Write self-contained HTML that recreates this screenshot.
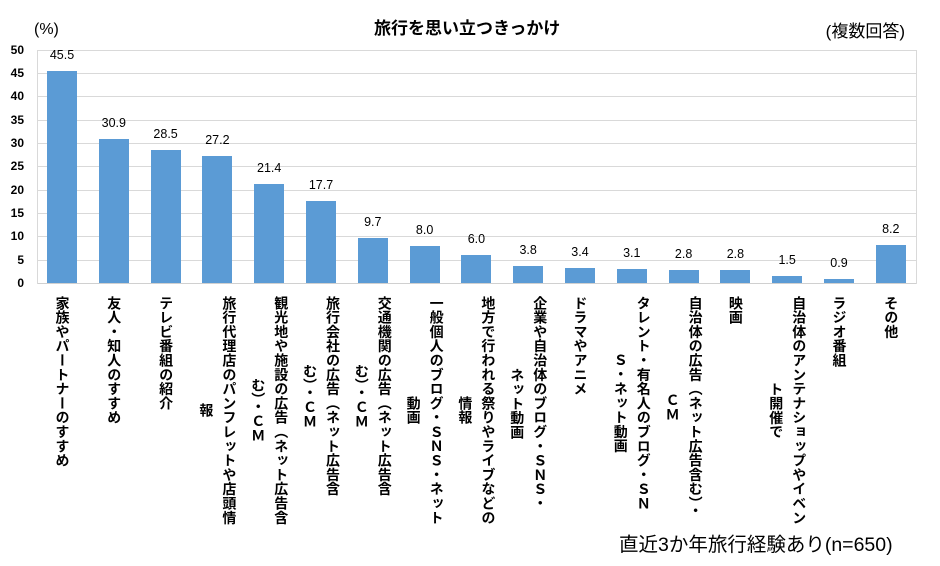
<!DOCTYPE html>
<html><head><meta charset="utf-8"><style>
body{margin:0;width:940px;height:566px;background:#fff;position:relative;overflow:hidden;font-family:"Liberation Sans","Noto Sans CJK JP",sans-serif;color:#000}
.a{position:absolute}
.g{position:absolute;left:37px;width:880px;height:1px;background:#d9d9d9}
.yt{position:absolute;left:0;width:24px;text-align:right;font-size:12px;font-weight:bold;line-height:14px}
.bar{position:absolute;width:30px;background:#5b9bd5}
.v{position:absolute;width:50px;text-align:center;font-size:12.5px;line-height:14px}
.lb{position:absolute;top:296px;writing-mode:vertical-rl;text-orientation:upright;font-size:14px;font-weight:bold;line-height:23px;text-align:center;white-space:nowrap;letter-spacing:0.3px}
</style></head><body>
<div class="a" style="left:374px;top:14px;font-size:17px;font-weight:bold;">旅行を思い立つきっかけ</div>
<div class="a" style="left:34px;top:21px;font-size:16px;">(%)</div>
<div class="g" style="top:50px"></div><div class="g" style="top:73px"></div><div class="g" style="top:96px"></div><div class="g" style="top:120px"></div><div class="g" style="top:143px"></div><div class="g" style="top:166px"></div><div class="g" style="top:190px"></div><div class="g" style="top:213px"></div><div class="g" style="top:236px"></div><div class="g" style="top:260px"></div><div class="g" style="top:283px;background:#d0d0d0"></div>
<div class="a" style="left:37px;top:50px;width:1px;height:234px;background:#d9d9d9"></div>
<div class="a" style="left:916px;top:50px;width:1px;height:234px;background:#d9d9d9"></div>
<div class="a" style="left:805px;top:18px;width:100px;height:30px;background:#fff;font-size:17px;line-height:28px;text-align:right;">(複数回答)</div>
<div class="yt" style="top:43px">50</div><div class="yt" style="top:66px">45</div><div class="yt" style="top:89px">40</div><div class="yt" style="top:113px">35</div><div class="yt" style="top:136px">30</div><div class="yt" style="top:159px">25</div><div class="yt" style="top:183px">20</div><div class="yt" style="top:206px">15</div><div class="yt" style="top:229px">10</div><div class="yt" style="top:253px">5</div><div class="yt" style="top:276px">0</div>
<div id="c"></div>
<div class="a" style="left:619px;top:528px;font-size:19.5px;">直近3か年旅行経験あり(n=650)</div>
<script>
var d=[45.5,30.9,28.5,27.2,21.4,17.7,9.7,8.0,6.0,3.8,3.4,3.1,2.8,2.8,1.5,0.9,8.2];
var L=["家族やパートナーのすすめ","友人・知人のすすめ","テレビ番組の紹介","旅行代理店のパンフレットや店頭情<br>報","観光地や施設の広告（ネット広告含<br>む）・ＣＭ","旅行会社の広告（ネット広告含<br>む）・ＣＭ","交通機関の広告（ネット広告含<br>む）・ＣＭ","一般個人のブログ・ＳＮＳ・ネット<br>動画","地方で行われる祭りやライブなどの<br>情報","企業や自治体のブログ・ＳＮＳ・<br>ネット動画","ドラマやアニメ","タレント・有名人のブログ・ＳＮ<br>Ｓ・ネット動画","自治体の広告（ネット広告含む）・<br>ＣＭ","映画","自治体のアンテナショップやイベン<br>ト開催で","ラジオ番組","その他"];
var h="";
for(var i=0;i<17;i++){var cx=62+i*51.8;var bh=d[i]*4.67;
h+='<div class="bar" style="left:'+(cx-15)+'px;top:'+(283.5-bh)+'px;height:'+bh+'px"></div>';
h+='<div class="v" style="left:'+(cx-25)+'px;top:'+(283.5-bh-23)+'px">'+d[i].toFixed(1)+'</div>';
var two=L[i].indexOf('<br>')>=0;var w=two?46:23;
h+='<div class="lb" style="left:'+(cx-w/2)+'px;width:'+w+'px">'+L[i]+'</div>';}
document.getElementById('c').innerHTML=h;
</script>
</body></html>
